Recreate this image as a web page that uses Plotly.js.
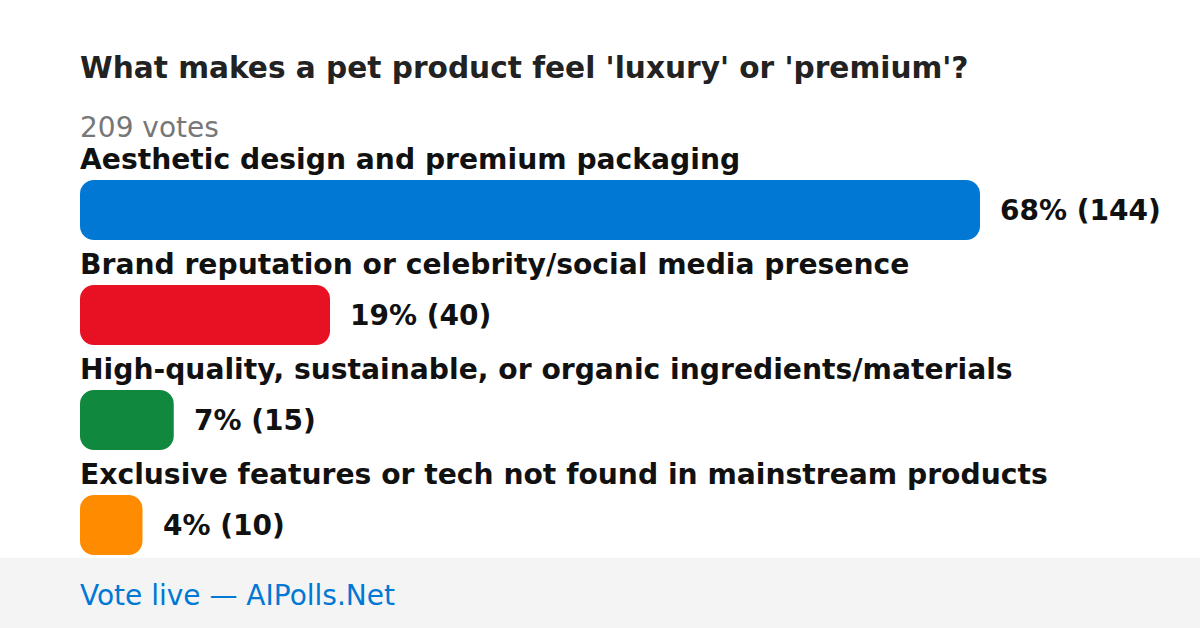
<!DOCTYPE html>
<html>
<head>
<meta charset="utf-8">
<script src="https://cdn.plot.ly/plotly-3.0.1.min.js"></script>
<style>html,body{margin:0;padding:0;background:#fff;}#chart{width:1200px;height:628px;}</style>
</head>
<body>
<div id="chart"></div>
<script>
const title = "What makes a pet product feel 'luxury' or 'premium'?";
const totalVotes = 209;
const categories = [
  "Aesthetic design and premium packaging",
  "Brand reputation or celebrity/social media presence",
  "High-quality, sustainable, or organic ingredients/materials",
  "Exclusive features or tech not found in mainstream products"
];
const votes = [144, 40, 15, 10];
const percents = [68, 19, 7, 4];
const colors = ["#0078d4", "#e81123", "#10893e", "#ff8c00"];
const footerText = "Vote live — AIPolls.Net";

const W = 1200, H = 628;
const py = p => 1 - p / H; // pixel y -> paper y
const idx = categories.map((_, i) => i);
const maxVotes = Math.max(...votes);
const BAR_PX = 900;                 // pixel length of the axis (0..maxVotes)
const R = 14;                       // corner radius in px
const rv = R * maxVotes / BAR_PX;   // corner radius expressed in vote units

// Each bar (0..votes) is drawn as two overlapping parts so both outer ends are rounded:
// a part running from (votes - rv) back to 0 (rounded at 0), and a part from rv to votes (rounded at votes).
const leftPart = {
  type: 'bar', orientation: 'h',
  base: votes.map(v => v - rv),
  x: votes.map(v => -(v - rv)),
  y: idx, width: 60 / 105,
  marker: { color: colors, cornerradius: R, line: { width: 0 } },
  hoverinfo: 'skip', cliponaxis: false
};
const rightPart = {
  type: 'bar', orientation: 'h',
  base: votes.map(() => rv),
  x: votes.map(v => v - rv),
  y: idx, width: 60 / 105,
  marker: { color: colors, cornerradius: R, line: { width: 0 } },
  hoverinfo: 'skip', cliponaxis: false
};

const annotations = [];
const common = { showarrow: false, xanchor: 'left', yanchor: 'middle', borderpad: 0, borderwidth: 0 };
annotations.push(Object.assign({
  text: "<b>" + title + "</b>", xref: 'paper', yref: 'paper', x: 80 / W, y: py(68),
  font: { family: 'DejaVu Sans', size: 29.6, color: '#222222' }
}, common));
annotations.push(Object.assign({
  text: totalVotes + " votes", xref: 'paper', yref: 'paper', x: 80 / W, y: py(127),
  font: { family: 'DejaVu Sans', size: 28, color: '#777777' }
}, common));
categories.forEach((c, i) => {
  annotations.push(Object.assign({
    text: "<b>" + c + "</b>", xref: 'paper', yref: 'y', x: 80 / W, y: i, yshift: 51,
    font: { family: 'DejaVu Sans', size: 28.2, color: '#111111' }
  }, common));
  annotations.push(Object.assign({
    text: "<b>" + percents[i] + "% (" + votes[i] + ")</b>", xref: 'x', yref: 'y', x: votes[i], y: i, xshift: 20,
    font: { family: 'DejaVu Sans', size: 28, color: '#111111' }
  }, common));
});
annotations.push(Object.assign({
  text: footerText, xref: 'paper', yref: 'paper', x: 80 / W, y: py(595),
  font: { family: 'DejaVu Sans', size: 28, color: '#0078d4' }
}, common));

const layout = {
  width: W, height: H,
  margin: { l: 0, r: 0, t: 0, b: 0, pad: 0 },
  paper_bgcolor: '#ffffff', plot_bgcolor: 'rgba(0,0,0,0)',
  showlegend: false, barmode: 'overlay',
  xaxis: { domain: [80 / W, (80 + BAR_PX) / W], range: [0, maxVotes], visible: false, fixedrange: true },
  yaxis: { domain: [py(577.5), py(157.5)], range: [3.5, -0.5], visible: false, fixedrange: true },
  shapes: [{
    type: 'rect', xref: 'paper', yref: 'paper', x0: 0, x1: 1, y0: 0, y1: py(558),
    fillcolor: '#f4f4f4', line: { width: 0 }, layer: 'below'
  }],
  annotations: annotations
};

Plotly.newPlot('chart', [leftPart, rightPart], layout, { displayModeBar: false, staticPlot: true });
</script>
</body>
</html>
